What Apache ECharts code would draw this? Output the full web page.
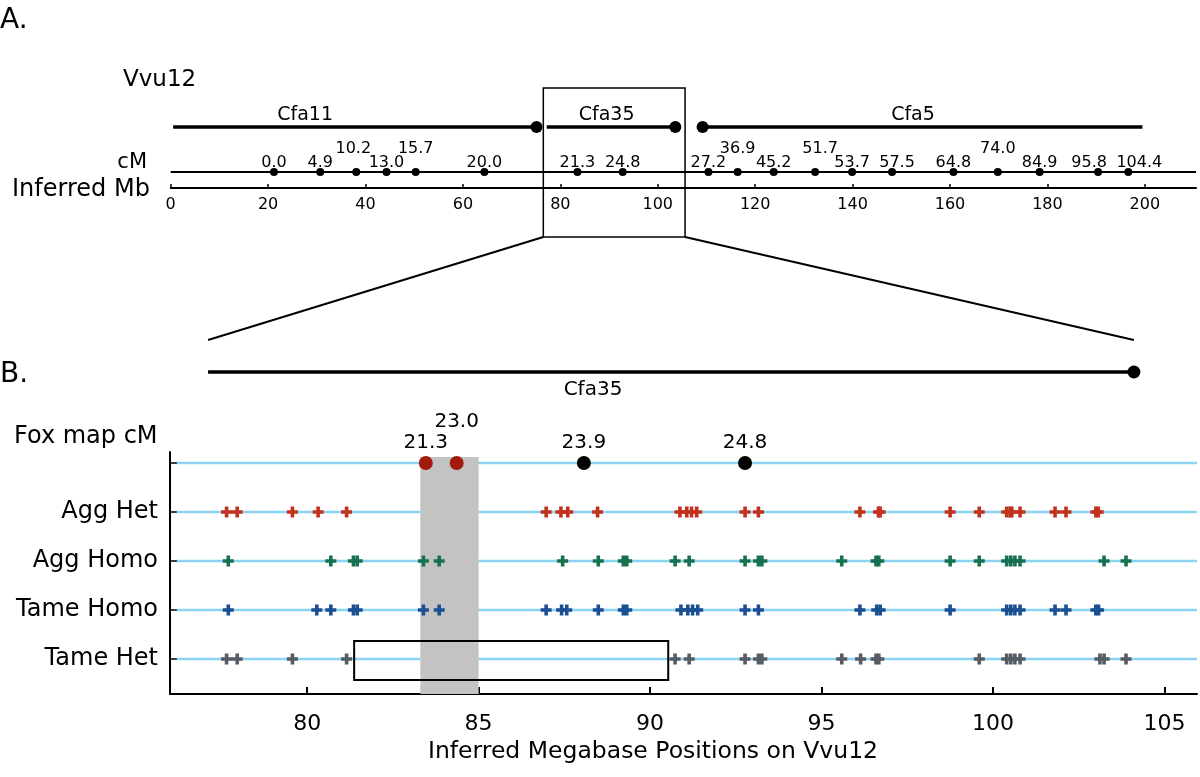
<!DOCTYPE html>
<html><head><meta charset="utf-8">
<script src="https://cdn.jsdelivr.net/npm/echarts@6/dist/echarts.min.js"></script>
<style>html,body{margin:0;padding:0;background:#fff}#c{width:1200px;height:777px}</style>
</head><body><div id="c"></div>
<script>
// ---------------- Panel A data ----------------
const chromNames = ['Cfa11', 'Cfa35', 'Cfa5'];
const chromStartMb = [0.5, 77.2, 109.2];
const chromEndMb = [75.1, 103.6, 199.5];
const chromLabelMb = [27.6, 89.5, 152.4];
const cMValues = ['0.0','4.9','10.2','13.0','15.7','20.0','21.3','24.8','27.2','36.9','45.2','51.7','53.7','57.5','64.8','74.0','84.9','95.8','104.4'];
const cMPositionsMb = [21.2,30.7,38.1,44.3,50.3,64.4,83.5,92.8,110.4,116.4,123.8,132.3,139.9,148.1,160.7,169.8,178.4,190.4,196.6];
const mbTicksA = [0,20,40,60,80,100,120,140,160,180,200];
const mbMaxA = 210.5;
const zoomBoxMb = [76.5, 105.6];

// ---------------- Panel B data ----------------
const rowNames = ['Tame Het', 'Tame Homo', 'Agg Homo', 'Agg Het'];
const foxCM = ['21.3', '23.0', '23.9', '24.8'];
const foxMb = [83.46, 84.36, 88.07, 92.77];
const aggHet = [77.65,77.96,79.57,80.32,81.15,86.97,87.40,87.60,88.47,90.87,91.07,91.21,91.36,92.77,93.16,96.12,96.66,96.71,98.75,99.60,100.40,100.50,100.55,100.79,101.81,102.13,103.00,103.07];
const aggHomo = [77.70,80.69,81.35,81.46,83.39,83.85,87.45,88.49,89.22,89.32,90.73,91.14,92.77,93.16,93.26,95.59,96.59,96.67,98.75,99.60,100.40,100.52,100.64,100.79,103.24,103.88];
const tameHomo = [77.70,80.28,80.69,81.35,81.46,83.39,83.85,86.97,87.42,87.57,88.49,89.22,89.32,90.90,91.10,91.24,91.39,92.77,93.16,96.12,96.61,96.71,98.75,100.40,100.52,100.64,100.79,101.81,102.13,103.00,103.08];
const tameHet = [77.65,77.96,79.57,81.15,90.73,91.14,92.77,93.16,93.26,95.59,96.14,96.59,96.67,99.60,100.40,100.52,100.64,100.79,103.12,103.24,103.88];
const mbTicksB = [80, 85, 90, 95, 100, 105];
const mbRangeB = [76.0, 105.95];
const shadedMb = [83.3, 85.0];
const boxedMb = [81.37, 90.53];
const cfa35SpanMb = [77.11, 104.11];

// ---------------- layout / style (not data) ----------------
const FONT = 'DejaVu Sans';
const yChrom = 6.1, yCM = 1.6, yBoxBottomA = -4.9;          // panel A row levels
const yMinB = 0.2857, yMaxB = 5.2245;                       // panel B axis range
const rowLevel = {tameHet: 1, tameHomo: 2, aggHomo: 3, aggHet: 4, fox: 5};
const yShadeTop = 5.122, yBoxB = [0.5714, 1.367], yCfa35 = 6.857, yZoomEnd = 7.51;
const raisedCM = ['10.2', '15.7', '36.9', '51.7', '74.0'];
const cmLabelShift = {'10.2': -3, '51.7': 5, '57.5': 5, '95.8': -9, '104.4': 11};
const raisedFox = ['23.0'];
const crossPath = 'path://M3.7,0h3.6v3.7h3.7v3.6h-3.7v3.7h-3.6v-3.7h-3.7v-3.6h3.7z';
const BLUE_LINE = '#8ad3f2';

const chart = echarts.init(document.getElementById('c'), null, {renderer: 'canvas'});

const series = [];
// Panel A: cM line
series.push({type: 'line', xAxisIndex: 0, yAxisIndex: 0, data: [[0, yCM], [mbMaxA, yCM]],
  symbol: 'none', lineStyle: {color: '#000', width: 2}, silent: true, z: 2});
// Panel A: chromosome bars
chromNames.forEach((nm, i) => {
  const dotStart = i === 2, dotEnd = i !== 2;
  series.push({type: 'line', xAxisIndex: 0, yAxisIndex: 0, z: 3, silent: true,
    data: [
      {value: [chromStartMb[i], yChrom], symbol: dotStart ? 'circle' : 'none'},
      {value: [chromEndMb[i], yChrom], symbol: dotEnd ? 'circle' : 'none'}
    ],
    symbolSize: 12, showSymbol: true, itemStyle: {color: '#000', opacity: 1},
    lineStyle: {color: '#000', width: 3.5}});
});
// Panel A: chromosome labels
series.push({type: 'scatter', xAxisIndex: 0, yAxisIndex: 0, symbolSize: 0, silent: true,
  itemStyle: {color: '#000', opacity: 1},
  data: chromNames.map((n, i) => ({value: [chromLabelMb[i], yChrom], name: n})),
  label: {show: true, position: 'top', distance: 2, formatter: p => p.name,
    fontFamily: FONT, fontSize: 19, color: '#000', opacity: 1}});
// Panel A: cM markers
series.push({type: 'scatter', xAxisIndex: 0, yAxisIndex: 0, symbol: 'circle', symbolSize: 8, z: 4, silent: true,
  itemStyle: {color: '#000', opacity: 1},
  data: cMValues.map((v, i) => ({value: [cMPositionsMb[i], yCM], name: v,
    label: {offset: [cmLabelShift[v] || 0, raisedCM.includes(v) ? -14 : 0]}})),
  label: {show: true, position: 'top', distance: -3, formatter: p => p.name,
    fontFamily: FONT, fontSize: 16, color: '#000'}});
// Panel A: zoom box
series.push({type: 'custom', xAxisIndex: 0, yAxisIndex: 0, clip: false, silent: true, z: 5,
  data: [[zoomBoxMb[0], zoomBoxMb[1]]],
  renderItem: (params, api) => {
    const a = api.coord([api.value(0), 10]);
    const b = api.coord([api.value(1), yBoxBottomA]);
    return {type: 'rect', shape: {x: a[0], y: a[1], width: b[0] - a[0], height: b[1] - a[1]},
      style: {fill: 'none', stroke: '#000', lineWidth: 1.5}};
  }});

// Panel B: light blue row lines
Object.values(rowLevel).forEach(lv => {
  series.push({type: 'line', xAxisIndex: 1, yAxisIndex: 1, data: [[76.2, lv], [mbRangeB[1], lv]],
    symbol: 'none', lineStyle: {color: BLUE_LINE, width: 2.5}, silent: true, z: 1});
});
// Panel B: shaded column
series.push({type: 'custom', xAxisIndex: 1, yAxisIndex: 1, clip: false, silent: true, z: 2,
  data: [[shadedMb[0], shadedMb[1]]],
  renderItem: (params, api) => {
    const a = api.coord([api.value(0), yShadeTop]);
    const b = api.coord([api.value(1), yMinB]);
    return {type: 'rect', shape: {x: a[0], y: a[1], width: b[0] - a[0], height: b[1] - a[1]},
      style: {fill: '#c3c3c3'}};
  }});
// Panel B: crosses
const groups = [
  {d: aggHet, lv: rowLevel.aggHet, c: '#c2321c'},
  {d: aggHomo, lv: rowLevel.aggHomo, c: '#17704f'},
  {d: tameHomo, lv: rowLevel.tameHomo, c: '#1b4f93'},
  {d: tameHet, lv: rowLevel.tameHet, c: '#555c64'}
];
groups.forEach(g => {
  series.push({type: 'scatter', xAxisIndex: 1, yAxisIndex: 1, symbol: crossPath, symbolSize: 11,
    z: 3, silent: true, itemStyle: {color: g.c, opacity: 1},
    data: g.d.map(x => [x, g.lv])});
});
// Panel B: fox map markers
series.push({type: 'scatter', xAxisIndex: 1, yAxisIndex: 1, symbol: 'circle', symbolSize: 14, z: 4, silent: true,
  data: foxCM.map((v, i) => ({value: [foxMb[i], rowLevel.fox], name: v,
    itemStyle: {opacity: 1, color: (foxMb[i] >= shadedMb[0] && foxMb[i] <= shadedMb[1]) ? '#a11b0f' : '#000'},
    label: {offset: [0, raisedFox.includes(v) ? -21 : 0]}})),
  label: {show: true, position: 'top', distance: 3, formatter: p => p.name,
    fontFamily: FONT, fontSize: 20, color: '#000'}});
// Panel B: boxed region on Tame Het
series.push({type: 'custom', xAxisIndex: 1, yAxisIndex: 1, clip: false, silent: true, z: 5,
  data: [[boxedMb[0], boxedMb[1]]],
  renderItem: (params, api) => {
    const a = api.coord([api.value(0), yBoxB[1]]);
    const b = api.coord([api.value(1), yBoxB[0]]);
    return {type: 'rect', shape: {x: a[0], y: a[1], width: b[0] - a[0], height: b[1] - a[1]},
      style: {fill: 'none', stroke: '#000', lineWidth: 2}};
  }});
// Panel B: Cfa35 bar
series.push({type: 'line', xAxisIndex: 1, yAxisIndex: 1, clip: false, silent: true, z: 3,
  data: [{value: [cfa35SpanMb[0], yCfa35], symbol: 'none'}, {value: [cfa35SpanMb[1], yCfa35], symbol: 'circle'}],
  symbolSize: 13, showSymbol: true, itemStyle: {color: '#000', opacity: 1}, lineStyle: {color: '#000', width: 3.5}});

const option = {
  animation: false,
  backgroundColor: '#fff',
  grid: [
    {left: 170.7, width: 1025.3, top: 88, height: 100},
    {left: 170, width: 1027, top: 452, height: 242}
  ],
  xAxis: [
    {type: 'value', gridIndex: 0, min: 0, max: mbMaxA,
      axisLine: {show: true, lineStyle: {color: '#000', width: 2}},
      axisTick: {show: true, inside: true, length: 4, customValues: mbTicksA, lineStyle: {color: '#000', width: 1.5}},
      axisLabel: {customValues: mbTicksA, fontFamily: FONT, fontSize: 16, color: '#000', margin: 9},
      splitLine: {show: false}},
    {type: 'value', gridIndex: 1, min: mbRangeB[0], max: mbRangeB[1],
      axisLine: {show: true, onZero: false, lineStyle: {color: '#000', width: 2}},
      axisTick: {show: true, inside: true, length: 7, customValues: mbTicksB, lineStyle: {color: '#000', width: 2}},
      axisLabel: {customValues: mbTicksB, fontFamily: FONT, fontSize: 22, color: '#000', margin: 19},
      splitLine: {show: false}}
  ],
  yAxis: [
    {type: 'value', gridIndex: 0, min: 0, max: 10, show: false},
    {type: 'value', gridIndex: 1, min: yMinB, max: yMaxB,
      axisLine: {show: true, onZero: false, lineStyle: {color: '#000', width: 2}},
      axisTick: {show: true, inside: true, length: 7, customValues: [1, 2, 3, 4, 5], lineStyle: {color: '#000', width: 1.5}},
      axisLabel: {customValues: [1, 2, 3, 4], formatter: v => rowNames[Math.round(v) - 1] || '',
        fontFamily: FONT, fontSize: 24, color: '#000', margin: 12},
      splitLine: {show: false}}
  ],
  series: series
};
chart.setOption(option);

// Connector lines and free text
const pA = v => chart.convertToPixel({xAxisIndex: 0, yAxisIndex: 0}, v);
const pB = v => chart.convertToPixel({xAxisIndex: 1, yAxisIndex: 1}, v);
const l1a = pA([zoomBoxMb[0], yBoxBottomA]), l1b = pB([cfa35SpanMb[0], yZoomEnd]);
const l2a = pA([zoomBoxMb[1], yBoxBottomA]), l2b = pB([cfa35SpanMb[1], yZoomEnd]);
const txt = (text, x, y, size, align) => ({type: 'text', x: x, y: y, silent: true,
  style: {text: text, fontFamily: FONT, fontSize: size, fill: '#000', align: align || 'left', verticalAlign: 'middle'}});
chart.setOption({graphic: [
  {type: 'line', shape: {x1: l1a[0], y1: l1a[1], x2: l1b[0], y2: l1b[1]}, style: {stroke: '#000', lineWidth: 2}, silent: true},
  {type: 'line', shape: {x1: l2a[0], y1: l2a[1], x2: l2b[0], y2: l2b[1]}, style: {stroke: '#000', lineWidth: 2}, silent: true},
  txt('A.', 0, 21, 28),
  txt('Vvu12', 123, 80, 23),
  txt('cM', 147, 163, 21, 'right'),
  txt('Inferred Mb', 12, 190, 24),
  txt('B.', 0, 375, 28),
  txt('Fox map cM', 14, 437, 24),
  txt('Cfa35', 593, 390, 20, 'center'),
  txt('Inferred Megabase Positions on Vvu12', 653, 752, 23.5, 'center')
]});
</script>
</body></html>
